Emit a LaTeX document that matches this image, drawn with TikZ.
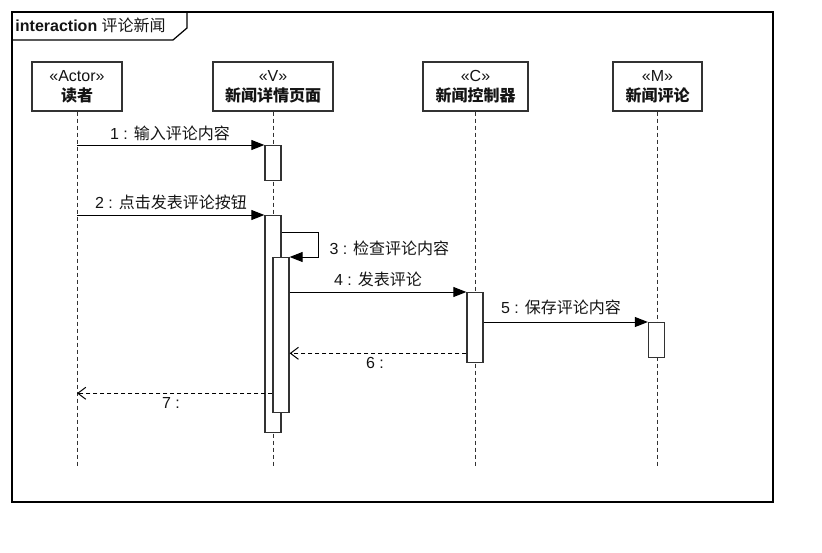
\documentclass[tikz,border=0pt]{standalone}
\usepackage{fontspec}
\setmainfont{Liberation Sans}
\newfontfamily\cjk{Noto Sans CJK SC}
\usetikzlibrary{arrows.meta}
\definecolor{linecol}{RGB}{50,50,50}
\definecolor{textcol}{RGB}{20,20,20}

\begin{document}
\begin{tikzpicture}[x=1pt, y=-1pt, line width=1pt,
  lifebox/.style={draw=linecol, line width=1.3pt, fill=white, minimum height=49pt, inner sep=0pt,
    align=center, text=textcol, font=\fontsize{16}{20}\selectfont},
  lifeline/.style={draw=linecol, dash pattern=on 4pt off 3pt},
  bar/.style={draw=linecol, line width=1.3pt, fill=white, minimum width=16pt, inner sep=0pt, anchor=north},
  msg/.style={draw=black, -{Triangle[length=13pt,width=10pt]}},
  reply/.style={draw=black, dash pattern=on 4pt off 3pt, -{Straight Barb[length=8pt,width=12pt]}},
  lbl/.style={text=textcol, font=\fontsize{16}{18}\selectfont, inner sep=0pt}]
  \useasboundingbox (0,0) rectangle (822,552);

  % okvir
  \draw[black, line width=1.2pt] (12,12) rectangle (773,502);
  \draw[black, line width=1.2pt] (12,40) -- (173,40) -- (187,28) -- (187,12);
  \node[lbl, anchor=west] (title) at (15,25) {\textbf{interaction} {\cjk 评论新闻}};

  % objekti
  \node[lifebox, minimum width=90pt]  (reader) at (77,86.5)    {«Actor»\\{\cjk\bfseries 读者}};
  \node[lifebox, minimum width=120pt] (page)   at (273,86.5)   {«V»\\{\cjk\bfseries 新闻详情页面}};
  \node[lifebox, minimum width=105pt] (ctrl)   at (475.5,86.5) {«C»\\{\cjk\bfseries 新闻控制器}};
  \node[lifebox, minimum width=89pt]  (model)  at (657.5,86.5) {«M»\\{\cjk\bfseries 新闻评论}};

  % zivljenjske crte
  \coordinate (bottom) at (0,468);
  \draw[lifeline] (reader.south) -- (reader.south |- bottom);
  \draw[lifeline] (page.south)   -- (page.south |- bottom);
  \draw[lifeline] (ctrl.south)   -- (ctrl.south |- bottom);
  \draw[lifeline] (model.south)  -- (model.south |- bottom);

  % aktivacije
  \node[bar, minimum height=35pt]  (va) at (273,145) {};
  \node[bar, minimum height=217pt] (vb) at (273,215) {};
  \node[bar, minimum height=155pt] (vc) at (281,257) {};
  \node[bar, minimum height=70pt]  (cb) at (475,292) {};
  \node[bar, minimum height=35pt]  (mb) at (656.5,322) {};

  % sporocila
  \draw[msg] (reader |- va.north west) -- (va.north west);
  \node[lbl] (m1) at (170,133) {1 : {\cjk 输入评论内容}};

  \draw[msg] (reader |- vb.north west) -- (vb.north west);
  \node[lbl] (m2) at (171,202) {2 : {\cjk 点击发表评论按钮}};

  \draw[msg] ([yshift=-17pt]vb.north east) -- ++(37,0) |- (vc.north east);
  \node[lbl, anchor=west] (m3) at (329,248) {3 : {\cjk 检查评论内容}};

  \draw[msg] (vc.east |- cb.north west) -- (cb.north west);
  \node[lbl] (m4) at (378,279) {4 : {\cjk 发表评论}};

  \draw[msg] (cb.east |- mb.north west) -- (mb.north west);
  \node[lbl] (m5) at (561,307) {5 : {\cjk 保存评论内容}};

  \draw[reply] ([yshift=10pt]cb.south west) coordinate (r6) -- (vc.east |- r6);
  \node[lbl] (m6) at (375,363) {6 :};

  \draw[reply] ([yshift=20pt]vc.south west) coordinate (r7) -- (reader |- r7);
  \node[lbl] (m7) at (171,403) {7 :};

\end{tikzpicture}
\end{document}
